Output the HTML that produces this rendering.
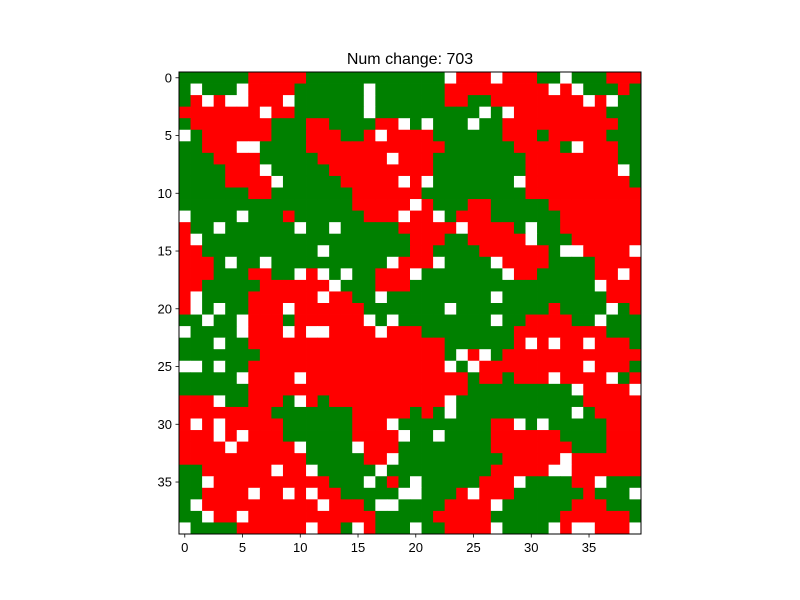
<!DOCTYPE html>
<html><head><meta charset="utf-8"><style>
html,body{margin:0;padding:0;background:#fff;}
svg{display:block;font-family:"Liberation Sans","DejaVu Sans",sans-serif;}
</style></head><body>
<svg id="chart" width="800" height="600" viewBox="0 0 800 600" xmlns="http://www.w3.org/2000/svg">
<rect width="800" height="600" fill="#fff"/>
<text x="410" y="64" text-anchor="middle" font-size="16" fill="#000">Num change: 703</text>
<g id="cells"></g>
<rect x="179" y="72" width="462" height="462" fill="none" stroke="#000" stroke-width="1"/>
<g id="xticks"></g>
<g id="yticks"></g>
</svg>
<script>
// grid rows: W = empty, R = red agent, G = green agent
const gridRows = [
"GGGGGGRRRRRGGGGGGGGGGGGWRRRWRRRGGWGGGRRR",
"GWGGGWRRRRGGGGGGWGGGGGGRRRRRRRRRWRWGGGRG",
"GRWRWWRRRWGGGGGGWGGGGGGRRGGRRRRRRRRWRWGG",
"RRRRRRRWRRGGGGGGWGGGGGGGGGWGWRRRRRRRRGGG",
"GRRRRRRRGGGRRGGGGRRWGWGGGWGGRRRRRRRRRRGG",
"WGRRRRRRGGGRRRGGRWRRRRGGGGGGRRRGRRRRRGGG",
"GGRRRWWGGGGRRRRRRRRRRRRGGGGGGRRRRGWRRRGG",
"GGGRRRRGGGGGRRRRRRWRRRGGGGGGGGRRRRRRRRGG",
"GGGGRRRWGGGGGRRRRRRRRRGGGGGGGGRRRRRRRRWG",
"GGGGRRRRWGGGGGRRRRRWRWGGGGGGGWRRRRRRRRRG",
"GGGGGGRRGGGGGGGRRRRRRGGGGGGGGGRRRRRRRRRR",
"GGGGGGGGGGGGGGGRRRRRWRGGGRRGGGGGRRRRRRRR",
"WGGGGWGGGRGGGGGGRRRWRRWGRRRGGGGGGRRRRRRR",
"RGGWGGGGGGWGGWGGGGGRRRRRWRRRRGWGGRRRRRRR",
"RWGGGGGGGGGGGGGGGGGGRRRGGRRRRRWGGGRRRRRR",
"RRGGGGGGGGGGWGGGGGGGRRGGGGRRRRRRGWWRRRRW",
"RRRGWGGWGGGGGGGGGGWRRRWGGGGWRRRRGGGGRRRR",
"RRRGGGRRGGWRWGWGGRRRWGGGGGGGWRRGGGGGRRWR",
"RRGGGGGRRRRRRWGGGRRRGGGGGGGGGGGGGGGGWRRR",
"RWGGGGRRRRRRWRRGGWGGGGGGGGGWGGGGGGGGGRRR",
"RWGWGGRRRWRRRRRRGGGGGGGWGGGGGGGGRGGGGWGR",
"GGWGGWRRRGRRRRRRWGWGGGGGGGGWGGRRRRGGWGGG",
"WGGGGWRRRWRWWRRRRWRRRGGGGGGGGRRRRRRRRGGG",
"GGGWGGRRRRRRRRRRRRRRRRRGGGGGGRWRWRRWRRRG",
"GGGGGGGRRRRRRRRRRRRRRRRGWRWGRRRRRRRRRRRR",
"WWGWGGRRRRRRRRRRRRRRRRRWGWRRRRRRRRRWRRRG",
"GGGGGWRRRRWRRRRRRRRRRRRRRGRRGRRRWRRRRWGR",
"GGGGGGRRRRRRRRRRRRRRRRRRRGGGGGGGGGWRRRRW",
"RRRWGGRRRGWRGRRRRRRRRRRWGGGGGGGGGGGRRRRR",
"RRRRRRRRGGGGGGGRRRRRGRGWGGGGGGGGGGWGRRRR",
"RWRWRRRRRGGGGGGRRRWGGGGGGGGRRWGWGGGGGRRR",
"RRRWRWRRRGGGGGGRRRRWGGWGGGGRRRRRRGGGGRRR",
"RRRRWRRRRRWGGGGWRRRGGGGGGGGRRRRRRRGGGRRR",
"RRRRRRRRRRRGGGGGRRWGGGGGGGGGRRRRRWRRRRRR",
"GGRRRRRRWRRWGGGGGWGGGGGGGGGRRRRRWWRRRRRR",
"GGWRRRRRRRRRRGGGWGRGWGGGGGRRRWGGGGRRWGGG",
"GGRRRRWRRWRWRRGGGGGWWGGGRWRRRGGGGGGRGGGW",
"GWRRRRRRRRRRWRRRGWWGGGGRRRRWGGGGGGRRRGGG",
"GGWRRWRRRRRRRRRRRGGGGGRRRRRGGGGGGRRRRRRG",
"WGGGGRRRRRRWRRGWRGGGWGGRRRRWGGGGWRWWRRRW"
];
const categories = ["W", "R", "G"];
const categoryColors = ["#ffffff", "#ff0000", "#008000"];
const tickValues = [0, 5, 10, 15, 20, 25, 30, 35];
const tickLabels = ["0", "5", "10", "15", "20", "25", "30", "35"];

const NS = "http://www.w3.org/2000/svg";
const X0 = 179, Y0 = 72, W = 462, H = 462;
const nRows = gridRows.length, nCols = gridRows[0].length;
const cw = W / nCols, ch = H / nRows;
function xScale(c){ return X0 + c * cw; }
function yScale(r){ return Y0 + r * ch; }

const cellsG = document.getElementById("cells");
for (let r = 0; r < nRows; r++) {
  for (let c = 0; c < nCols; c++) {
    const k = categories.indexOf(gridRows[r][c]);
    const rect = document.createElementNS(NS, "rect");
    rect.setAttribute("x", xScale(c));
    rect.setAttribute("y", yScale(r));
    rect.setAttribute("width", cw + 0.4);
    rect.setAttribute("height", ch + 0.4);
    rect.setAttribute("fill", categoryColors[k]);
    
    
    cellsG.appendChild(rect);
  }
}

const xg = document.getElementById("xticks");
const yg = document.getElementById("yticks");
tickValues.forEach((v, i) => {
  const x = xScale(v + 0.5);
  const t = document.createElementNS(NS, "line");
  t.setAttribute("x1", x); t.setAttribute("x2", x);
  t.setAttribute("y1", Y0 + H); t.setAttribute("y2", Y0 + H + 3.5);
  t.setAttribute("stroke", "#000"); t.setAttribute("stroke-width", "0.8");
  
  
  xg.appendChild(t);
  const lb = document.createElementNS(NS, "text");
  lb.setAttribute("x", x); lb.setAttribute("y", Y0 + H + 18);
  lb.setAttribute("text-anchor", "middle"); lb.setAttribute("font-size", "13");
  lb.textContent = tickLabels[i];
  
  
  xg.appendChild(lb);

  const y = yScale(v + 0.5);
  const t2 = document.createElementNS(NS, "line");
  t2.setAttribute("x1", X0 - 3.5); t2.setAttribute("x2", X0);
  t2.setAttribute("y1", y); t2.setAttribute("y2", y);
  t2.setAttribute("stroke", "#000"); t2.setAttribute("stroke-width", "0.8");
  
  
  yg.appendChild(t2);
  const lb2 = document.createElementNS(NS, "text");
  lb2.setAttribute("x", X0 - 7); lb2.setAttribute("y", y + 4.5);
  lb2.setAttribute("text-anchor", "end"); lb2.setAttribute("font-size", "13");
  lb2.textContent = tickLabels[i];
  
  
  yg.appendChild(lb2);
});
</script>
</body></html>
